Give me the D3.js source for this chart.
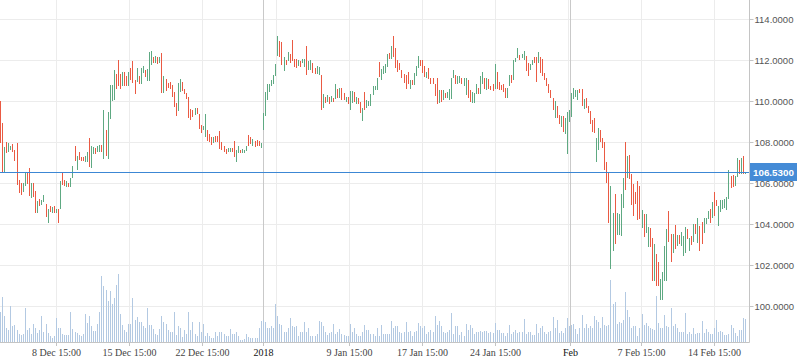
<!DOCTYPE html>
<html lang="en">
<head>
<meta charset="UTF-8">
<title>Price chart</title>
<style>
  body { margin: 0; background: #fff; }
  svg { display: block; }
</style>
</head>
<body>
<script src="https://cdn.jsdelivr.net/npm/d3@7/dist/d3.min.js"></script>
<script>
var width = 798,
    height = 363,
    plotRight = 749,
    axisY = 342;

// bar opens / closes
var opens = [
  110.02,108.95,106.54,108.02,107.50,107.60,107.92,107.63,107.95,106.16,
  106.00,105.59,105.84,106.49,106.75,105.27,106.00,105.61,104.53,105.22,
  104.93,105.10,104.98,104.07,104.88,104.56,104.88,104.56,104.72,104.76,
  106.52,106.16,105.80,106.00,105.80,106.26,107.82,106.62,107.50,107.27,
  107.27,107.01,107.04,108.21,106.75,107.40,107.73,107.50,107.53,107.86,
  107.20,108.60,107.20,109.15,110.02,110.04,111.34,112.02,111.34,110.72,
  111.41,111.25,110.75,111.62,111.98,111.05,110.92,111.22,110.85,111.36,
  111.53,111.01,110.98,111.77,112.18,111.89,112.18,111.89,112.34,110.42,
  111.07,110.90,110.93,110.80,110.45,109.90,109.52,110.45,110.94,110.62,
  110.39,110.22,
  109.61,109.55,109.34,109.65,109.39,108.83,108.57,108.25,108.60,108.38,
  108.25,107.95,108.28,108.31,108.54,108.02,107.79,107.66,107.53,107.53,
  107.73,108.05,107.04,107.47,107.63,107.47,107.47,107.56,108.36,108.25,
  107.79,108.05,108.12,108.05,107.73,108.57,109.29,110.04,110.43,110.72,
  110.85,111.23,112.21,112.94,112.87,111.46,112.02,111.98,112.29,113.00,
  112.05,112.05,111.73,111.95,111.85,111.69,112.71,111.53,111.53,111.85,
  111.63,111.34,111.28,111.29,109.65,110.23,109.94,110.20,109.97,110.17,
  110.10,110.59,110.17,110.63,110.40,109.94,110.20,109.55,109.90,110.46,
  109.87,110.17,109.94,109.01,110.43,109.68,109.78,109.78,110.30,110.56,
  110.53,111.93,111.02,111.31,111.37,111.67,112.35,112.06,113.17,112.58,
  111.99,111.86,111.54,111.31,111.28,111.44,110.59,111.05,110.79,111.24,
  111.63,112.03,111.99,111.70,111.15,111.63,111.15,111.15,110.85,111.11,
  109.91,110.56,110.07,110.40,110.14,110.07,110.10,111.11,111.28,110.82,
  110.88,111.11,110.72,110.30,111.02,110.56,109.91,109.91,110.33,110.66,
  110.33,110.85,111.15,110.53,111.08,110.75,110.82,110.62,111.44,110.95,
  110.79,110.85,110.66,110.14,110.72,111.28,111.05,111.93,112.09,112.25,
  112.09,112.03,112.22,111.86,111.54,111.76,112.16,112.16,111.86,112.16,
  112.06,111.37,111.11,110.85,110.53,110.14,109.19,109.78,109.35,108.73,
  109.29,108.41,107.40,108.97,109.23,110.11,110.21,110.04,
  110.60,110.60,109.62,110.17,109.78,109.52,109.07,109.16,107.05,107.63,
  108.61,108.22,108.02,107.05,106.49,101.80,102.68,105.45,103.49,103.46,
  103.40,104.80,108.02,106.23,107.37,106.43,105.94,105.58,106.10,105.84,
  103.79,104.50,103.56,102.88,103.82,103.33,101.21,102.52,102.13,100.30,
  100.27,101.21,101.21,104.63,103.53,102.61,103.95,102.91,103.49,102.94,
  102.42,102.61,103.75,102.68,103.43,103.14,103.98,103.10,103.92,104.08,
  103.56,103.98,104.24,104.73,104.31,105.58,105.16,103.92,104.60,104.76,
  104.80,104.70,105.22,106.33,106.39,105.84,106.30,107.11,106.43,107.34,
  106.45
];

var closes = [
  107.95,106.54,107.74,107.47,107.95,107.79,107.50,107.06,105.92,105.51,
  105.43,106.03,106.52,105.97,105.35,106.00,105.32,104.53,105.15,104.86,
  105.19,105.43,104.33,104.72,104.59,104.82,104.56,104.75,104.07,106.10,
  105.90,105.87,106.10,105.79,106.26,106.85,107.06,107.34,107.11,107.08,
  107.08,107.34,107.53,106.81,107.82,107.76,107.40,107.79,107.86,107.53,
  109.58,107.33,109.45,110.80,110.78,111.53,110.59,110.72,110.62,111.41,
  110.72,110.72,111.41,111.02,110.89,110.33,111.62,110.83,111.62,111.71,
  111.20,111.58,112.39,112.44,111.87,112.21,111.82,112.15,110.42,111.23,
  110.50,110.64,110.61,110.23,109.74,109.26,110.87,111.10,110.52,110.34,
  110.10,109.20,
  109.06,109.22,109.68,109.39,108.64,108.44,108.77,109.39,108.08,108.02,
  107.87,108.25,108.02,107.99,107.69,107.60,107.50,107.43,107.73,107.73,
  107.50,107.30,107.63,107.79,107.47,107.66,107.63,107.79,107.82,107.92,
  108.15,107.76,107.82,107.79,107.95,109.42,110.43,110.85,110.85,111.02,
  111.29,111.82,113.20,112.18,111.76,112.18,111.77,112.41,111.85,111.95,
  111.69,111.63,112.02,111.69,112.08,112.08,111.28,111.95,112.02,111.36,
  111.34,111.72,111.69,109.55,110.36,109.90,110.30,109.87,110.27,109.97,
  110.85,110.17,110.66,110.07,110.07,110.23,109.87,110.50,110.50,109.97,
  110.20,109.84,109.42,109.65,109.58,110.07,110.00,110.36,110.76,110.76,
  111.11,111.18,111.57,111.73,111.80,112.29,112.06,112.71,112.16,111.60,
  111.41,111.50,111.11,110.88,110.62,110.85,111.05,110.79,111.37,111.70,
  112.22,111.73,111.37,111.18,111.44,111.08,110.85,110.85,110.27,109.84,
  110.56,109.97,110.53,110.14,110.43,110.59,111.11,111.54,110.82,111.21,
  111.21,110.82,111.15,111.15,110.14,109.97,110.43,110.40,110.85,110.36,
  111.21,111.44,110.62,111.11,110.62,110.53,110.49,111.83,110.62,110.56,
  110.56,110.46,110.14,110.66,111.28,110.88,111.99,112.09,112.58,112.03,
  112.29,112.45,111.47,111.24,111.80,112.03,111.86,110.92,112.42,111.37,
  111.21,111.05,110.72,110.40,110.14,109.55,110.01,109.16,108.90,109.26,
  108.48,109.16,109.46,109.55,110.40,110.66,110.56,110.53,
  110.40,109.78,110.11,109.65,109.42,108.87,108.48,108.45,108.19,108.67,
  107.99,107.70,106.65,106.00,104.05,105.84,104.54,103.01,104.54,104.47,
  105.48,106.26,105.68,107.31,106.20,104.93,104.41,104.96,104.18,104.24,
  104.70,103.36,104.47,103.88,102.88,101.21,103.04,100.99,100.99,101.31,
  101.64,102.94,103.75,103.14,102.13,103.53,102.78,103.49,103.04,103.62,
  103.43,103.88,103.27,103.33,102.97,103.98,103.53,104.28,102.71,103.04,
  104.28,104.31,104.63,104.05,105.06,104.41,104.86,104.89,105.16,105.16,
  105.22,105.32,106.62,105.74,105.81,106.36,107.24,106.43,107.21,106.43,
  106.53
];

var volumes = [
  30,45,26,14,12,36,16,17,12,8, 7,8,34,12,14,8,18,14,9,12,
  26,10,18,9,6,4,6,24,14,14, 8,7,7,7,30,13,10,9,7,6,
  8,28,19,26,16,11,11,18,30,66, 56,52,41,51,38,44,57,68,28,17,
  12,10,18,18,44,22,25,20,20,16, 14,34,17,17,13,8,7,13,26,20,
  18,12,10,10,30,7,16,14,5,12, 8,30,12,20,8,6,20,
  10,18,6,9,6,4,4,10,6,10, 10,8,6,6,13,8,8,10,6,2,
  2,3,8,5,4,4,4,4,14,21, 22,20,14,14,16,14,38,26,18,17,
  10,10,14,24,16,15,16,6,10,10, 20,10,14,6,6,6,8,21,20,16,
  10,7,9,10,18,8,10,13,8,7, 6,6,18,10,14,8,6,6,10,17,
  12,12,8,8,6,14,6,17,8,8, 8,8,21,14,16,16,
  10,9,10,20,10,11,6,10,11,19, 16,14,16,8,10,12,10,26,17,21,
  16,10,9,10,12,29,8,16,16,7, 10,6,18,12,17,14,8,10,10,11,
  10,11,11,9,10,9,19,12,12,9, 9,6,9,17,8,10,12,9,10,10,
  23,8,10,10,7,7,18,9,14,16, 10,8,10,11,25,14,22,9,11,9,
  14,24,16,17,18,13,8,14,27,14, 18,14,16,14,26,22,
  20,14,25,17,16,17,62,38,40,18, 20,19,22,50,32,25,14,16,16,6,
  14,28,17,19,16,14,13,12,46,19, 14,14,27,16,15,34,16,18,14,10,
  10,10,29,8,10,8,14,8,9,9, 21,9,13,10,8,8,14,22,10,11,
  10,7,7,8,17,14,9,6,12,12, 24,23
];

var lastPrice = 106.53;
var priceTicks = [100, 102, 104, 106, 108, 110, 112, 114];

// week ticks (bar index) and their labels; "" = gridline only
var weekTicks = [27.2, 62.5, 97.8, 133.2, 168.5, 203.8, 239.1, 274.5, 309.8, 345.1];
var weekLabels = ["8 Dec 15:00", "15 Dec 15:00", "22 Dec 15:00", "", "9 Jan 15:00",
                  "17 Jan 15:00", "24 Jan 15:00", "", "7 Feb 15:00", "14 Feb 15:00"];
var periodTicks = [127.1, 275.6];
var periodLabels = ["2018", "Feb"];

var upColor = "#5ea982",
    downColor = "#ea5a43",
    gridColor = "#ececec",
    lineColor = "#3c87d4";

var n = Math.min(opens.length, closes.length);

var x = d3.scaleLinear()
    .domain([0, n - 1])
    .range([0, 745]);

var y = d3.scaleLinear()
    .domain([100, 114])
    .range([306, 19.3]);

var yv = d3.scaleLinear()
    .domain([0, 100])
    .range([axisY, axisY - 100]);

var svg = d3.select("body").append("svg")
    .attr("width", width)
    .attr("height", height);

// horizontal grid
svg.append("g")
    .selectAll("line")
    .data(priceTicks)
    .enter()
    .append("line")
    .attr("x1", 0)
    .attr("x2", plotRight)
    .attr("y1", function(d){ return Math.round(y(d)) + 0.5; })
    .attr("y2", function(d){ return Math.round(y(d)) + 0.5; })
    .attr("stroke", gridColor)
    .attr("stroke-width", 1);

// vertical week grid
svg.append("g")
    .selectAll("line")
    .data(weekTicks)
    .enter()
    .append("line")
    .attr("x1", function(d){ return Math.round(x(d)) + 0.5; })
    .attr("x2", function(d){ return Math.round(x(d)) + 0.5; })
    .attr("y1", 0)
    .attr("y2", axisY)
    .attr("stroke", gridColor)
    .attr("stroke-width", 1);

// year / month separators
svg.append("g")
    .selectAll("line")
    .data(periodTicks)
    .enter()
    .append("line")
    .attr("x1", function(d){ return Math.round(x(d)) + 0.5; })
    .attr("x2", function(d){ return Math.round(x(d)) + 0.5; })
    .attr("y1", 0)
    .attr("y2", axisY)
    .attr("stroke", "#c9c9c9")
    .attr("stroke-width", 1);

// volume
svg.append("g")
    .attr("shape-rendering", "crispEdges")
    .selectAll("rect")
    .data(volumes.slice(0, n))
    .enter()
    .append("rect")
    .attr("x", function(d, i){ return Math.round(x(i)); })
    .attr("width", 1)
    .attr("y", function(d){ return yv(d); })
    .attr("height", function(d){ return axisY - yv(d); })
    .attr("fill", "#b3c9e2");

// price bars
svg.append("g")
    .attr("shape-rendering", "crispEdges")
    .selectAll("rect")
    .data(d3.range(n))
    .enter()
    .append("rect")
    .attr("x", function(i){ return Math.round(x(i)); })
    .attr("width", 1)
    .attr("y", function(i){ return y(Math.max(opens[i], closes[i])); })
    .attr("height", function(i){
        return Math.max(1, y(Math.min(opens[i], closes[i])) - y(Math.max(opens[i], closes[i])));
    })
    .attr("fill", function(i){ return closes[i] >= opens[i] ? upColor : downColor; });

// last price line
var yLast = Math.round(y(lastPrice)) + 0.5;
svg.append("line")
    .attr("x1", 0)
    .attr("x2", plotRight)
    .attr("y1", yLast)
    .attr("y2", yLast)
    .attr("stroke", lineColor)
    .attr("stroke-width", 1);

// axis lines
svg.append("line")
    .attr("x1", 0).attr("x2", plotRight + 0.5)
    .attr("y1", axisY + 0.5).attr("y2", axisY + 0.5)
    .attr("stroke", "#c4c4c4");
svg.append("line")
    .attr("x1", plotRight + 0.5).attr("x2", plotRight + 0.5)
    .attr("y1", 0).attr("y2", axisY + 0.5)
    .attr("stroke", "#c4c4c4");

// bottom axis
var labelled = [], labelText = {};
weekTicks.forEach(function(t, i){
    if (weekLabels[i]) { labelled.push(t); labelText[t] = weekLabels[i]; }
});
periodTicks.forEach(function(t, i){ labelled.push(t); labelText[t] = periodLabels[i]; });

var xAxis = d3.axisBottom(x)
    .tickValues(labelled)
    .tickSize(4)
    .tickSizeOuter(0)
    .tickPadding(3)
    .tickFormat(function(d){ return labelText[d]; });

var gx = svg.append("g")
    .attr("transform", "translate(0," + axisY + ")")
    .call(xAxis);
gx.select(".domain").remove();
gx.selectAll(".tick").attr("transform", function(d){
    return "translate(" + (Math.round(x(d)) + 0.5) + ",0)";
});
gx.selectAll(".tick line").attr("stroke", "#c4c4c4");
gx.selectAll(".tick text")
    .attr("fill", function(d){ return periodTicks.indexOf(d) >= 0 ? "#111" : "#444"; })
    .style("font-family", "'Liberation Serif', 'Times New Roman', serif")
    .style("font-size", "10px");

// right axis
var yAxis = d3.axisRight(y)
    .tickValues(priceTicks)
    .tickSize(4)
    .tickSizeOuter(0)
    .tickPadding(1)
    .tickFormat(d3.format(".4f"));

var gy = svg.append("g")
    .attr("transform", "translate(" + (plotRight + 0.5) + ",0)")
    .call(yAxis);
gy.select(".domain").remove();
gy.selectAll(".tick").attr("transform", function(d){
    return "translate(0," + (Math.round(y(d)) + 0.5) + ")";
});
gy.selectAll(".tick line").attr("stroke", "#c4c4c4");
gy.selectAll(".tick text")
    .attr("fill", "#555")
    .style("font-family", "'Liberation Sans', Arial, sans-serif")
    .style("font-size", "9.5px");

// last price badge
svg.append("rect")
    .attr("x", plotRight + 1)
    .attr("y", yLast - 9.5)
    .attr("width", width - plotRight - 2)
    .attr("height", 18)
    .attr("fill", "#448bd6");

svg.append("text")
    .attr("x", plotRight + 4)
    .attr("y", yLast)
    .attr("dy", "0.35em")
    .attr("fill", "#fff")
    .style("font-family", "'Liberation Sans', Arial, sans-serif")
    .style("font-size", "9.8px")
    .style("font-weight", "bold")
    .text(d3.format(".4f")(lastPrice));
</script>
</body>
</html>
